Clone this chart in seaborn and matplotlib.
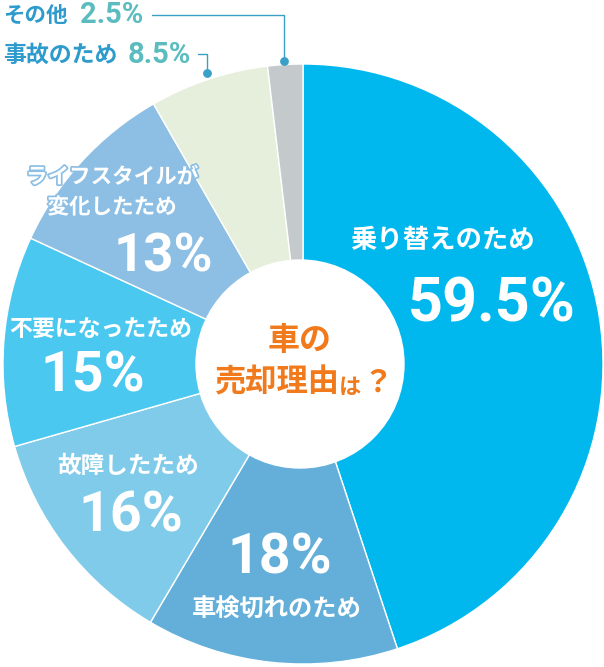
import matplotlib
matplotlib.use("Agg")
import matplotlib.pyplot as plt
import matplotlib.patheffects as pe
import seaborn as sns

# data
reasons = ["乗り替えのため", "車検切れのため", "故障したため", "不要になったため",
           "ライフスタイルが\n変化したため", "事故のため", "その他"]
shares = [59.5, 18, 16, 15, 13, 8.5, 2.5]
share_labels = ["59.5%", "18%", "16%", "15%", "13%", "8.5%", "2.5%"]
slice_colors = ["#00b8ee", "#63afd9", "#80cbea", "#4bc8f0", "#8dbfe4", "#e6efdc", "#c4c9cb"]

sns.set_theme(style="white")
palette = sns.color_palette(slice_colors)

W, H = 604, 667
JP = ["Noto Sans CJK JP", "DejaVu Sans"]
NUM = ["Roboto", "DejaVu Sans"]
ORANGE = "#f07a1c"
BLUE = "#2e9bcc"
TEAL = "#5bbcc0"
LINE = "#3aa0c8"

fig = plt.figure(figsize=(W / 100, H / 100), dpi=100)
ax = fig.add_axes([0, 0, 1, 1])

cx, cy, r = 303, 364, 300
ax.pie(shares, colors=palette, startangle=90, counterclock=False,
       center=(cx, H - cy), radius=r,
       wedgeprops=dict(edgecolor="white", linewidth=1.0))
ax.add_patch(plt.Circle((300, H - 364), 104, color="white", zorder=3))
ax.set_xlim(0, W)
ax.set_ylim(0, H)
ax.set_aspect("equal")
ax.axis("off")


def txt(x, y, s, size, family=JP, color="white", **kw):
    return ax.text(x, H - y, s, fontsize=size, family=family, color=color,
                   fontweight="bold", ha=kw.pop("ha", "center"),
                   va=kw.pop("va", "center"), zorder=5, **kw)


# labels inside the slices
txt(442, 241, reasons[0], 19)
txt(492, 304, share_labels[0], 44, NUM)
txt(280, 558, share_labels[1], 40, NUM)
txt(277, 610, reasons[1], 17.5)
txt(128, 466, reasons[2], 17)
txt(131, 516, share_labels[2], 40, NUM)
txt(101, 330, reasons[3], 16.5)
txt(93, 377, share_labels[3], 40, NUM)
t = txt(112, 192, reasons[4], 15.5, linespacing=1.55)
t.set_path_effects([pe.withStroke(linewidth=2.5, foreground=slice_colors[4])])
txt(163, 257, share_labels[4], 38, NUM)

# centre text
txt(300, 341, "車の", 23, color=ORANGE)
txt(339, 383, "売却理由", 22.5, color=ORANGE, ha="right")
txt(339, 387, "は", 16, color=ORANGE, ha="left")
txt(362, 383, "？", 22, color=ORANGE, ha="left")

# outside labels with leader lines
txt(3, 15, reasons[6], 15.5, color=BLUE, ha="left")
txt(80, 15, share_labels[6], 21, NUM, color=TEAL, ha="left")
txt(3, 55, reasons[5], 16.5, color=BLUE, ha="left")
txt(128, 55, share_labels[5], 21, NUM, color=TEAL, ha="left")

ax.plot([152, 284, 284], [H - 15, H - 15, H - 60], color=LINE, lw=1, zorder=4)
ax.plot([198, 207, 207], [H - 54, H - 54, H - 72], color=LINE, lw=1, zorder=4)
ax.scatter([284, 207], [H - 61, H - 73], s=28, color=LINE, zorder=6)

fig.savefig("out.png", dpi=100)
